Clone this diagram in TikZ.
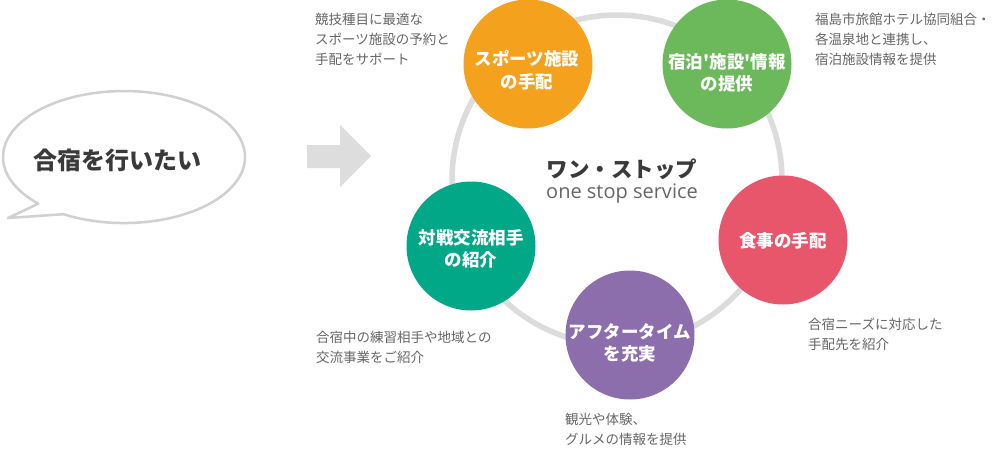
\documentclass[tikz,border=0pt]{standalone}
\usepackage{fontspec}
\newfontfamily\jp[Ligatures=TeXOff]{Noto Sans CJK JP}
\newfontfamily\opensans{Open Sans}
\definecolor{cOrange}{HTML}{F4A11D}
\definecolor{cGreen}{HTML}{6CB95B}
\definecolor{cPink}{HTML}{E8566C}
\definecolor{cTeal}{HTML}{00A888}
\definecolor{cPurple}{HTML}{8D6EAC}
\definecolor{cRing}{HTML}{DCDCDC}
\definecolor{cArrow}{HTML}{DDDDDD}
\definecolor{cBubble}{HTML}{D0D0D0}
\definecolor{cDesc}{HTML}{666666}
\definecolor{cDark}{HTML}{3A3A3A}
\begin{document}
\begin{tikzpicture}[x=1pt,y=-1pt,
  spot/.style={circle, minimum size=129pt, inner sep=0pt, draw=none},
  spottext/.style={text=white, font=\jp\bfseries\fontsize{17.5}{22.5}\selectfont, align=center, inner sep=0pt},
  desc/.style={text=cDesc, font=\jp\fontsize{13.5}{20}\selectfont, align=left, inner sep=0pt, anchor=north west},
]
\useasboundingbox (0,0) rectangle (997,450);
\fill[white] (0,0) rectangle (997,450);

% speech bubble
\draw[draw=cBubble, line width=2.5pt, fill=white, line join=round]
  (38.4,203.7) -- (8,218) -- (63.5,214.2)
  arc[start angle=120, end angle=-225, x radius=121, y radius=66] -- cycle;
\node[font=\jp\bfseries\fontsize{24}{24}\selectfont, text=cDark, inner sep=0pt] (wish) at (118,160) {合宿を行いたい};

% arrow
\fill[cArrow] (307,145) -- (340,145) -- (340,125) -- (371,156) -- (340,187) -- (340,168) -- (307,168) -- cycle;

% ring
\draw[cRing, line width=5.5pt] (617,180) circle[radius=165];

% centre title
\node[font=\jp\bfseries\fontsize{21.5}{21.5}\selectfont, text=cDark, inner sep=0pt] (title) at (622,169) {ワン・ストップ};
\node[font=\opensans\fontsize{20}{20}\selectfont, text=cDesc, inner sep=0pt, anchor=base] (subtitle) at (622,198) {one stop service};

% circles
\node[spot, fill=cOrange] (sports) at (528,64) {};
\node[spot, fill=cGreen] (lodging) at (727,64) {};
\node[spot, fill=cPink] (meals) at (783,240) {};
\node[spot, fill=cTeal] (rivals) at (471,246) {};
\node[spot, fill=cPurple] (after) at (630,335) {};

\node[spottext] (sportsT) at (527,70) {スポーツ施設\\の手配};
\node[spottext] (lodgingT) at (727,73) {宿泊'施設'情報\\の提供};
\node[spottext] (mealsT) at (783,241) {食事の手配};
\node[spottext] (rivalsT) at (471,249) {対戦交流相手\\の紹介};
\node[spottext] (afterT) at (630,343) {アフタータイム\\を充実};

% descriptions
\node[desc] (d1) at (315,13) {競技種目に最適な\\スポーツ施設の予約と\\手配をサポート};
\node[desc] (d2) at (815,13) {福島市旅館ホテル協同組合・\\各温泉地と連携し、\\宿泊施設情報を提供};
\node[desc] (d3) at (316,331) {合宿中の練習相手や地域との\\交流事業をご紹介};
\node[desc] (d4) at (808,318) {合宿ニーズに対応した\\手配先を紹介};
\node[desc] (d5) at (565,413) {観光や体験、\\グルメの情報を提供};
\end{tikzpicture}
\end{document}
